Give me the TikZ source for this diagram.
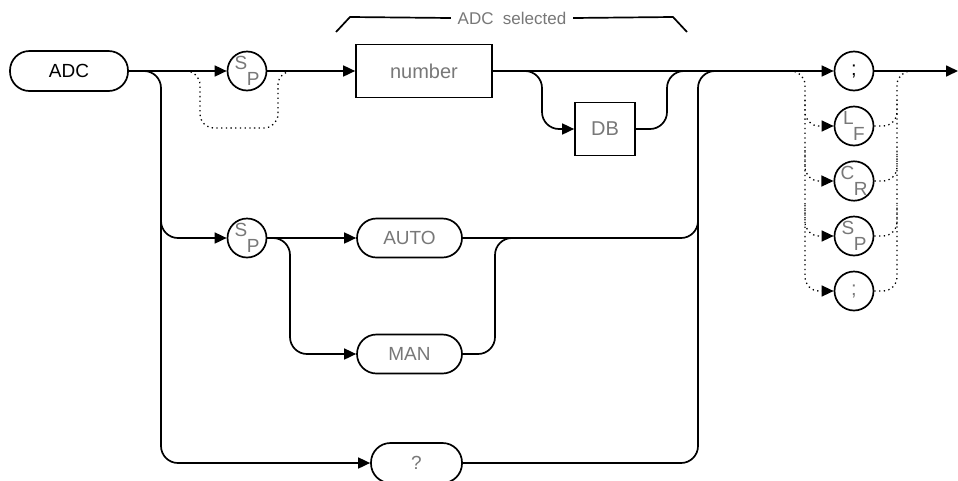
\documentclass[tikz,border=0pt]{standalone}
\usepackage{fontspec}
\setmainfont{Liberation Sans}
\usetikzlibrary{arrows.meta}
\definecolor{lbl}{RGB}{120,120,120}
\begin{document}
\begin{tikzpicture}[x=1pt,y=-1pt,
  line width=1.7pt,
  tip/.style={-{Triangle[length=12pt,width=11pt]}},
  rc/.style={rounded corners=17pt},
  dots/.style={line width=1.3pt,dash pattern=on 1.3pt off 3.4pt,rounded corners=14pt},
  term/.style={draw,rectangle,rounded corners=19.5pt,minimum height=39pt,inner sep=0pt,
     font=\fontsize{19}{19}\selectfont,text=lbl},
  boxn/.style={draw,rectangle,minimum height=53pt,inner sep=0pt,
     font=\fontsize{20}{20}\selectfont,text=lbl},
  circ/.style={draw,circle,minimum size=39pt,inner sep=0pt,
     font=\fontsize{19}{19}\selectfont,text=lbl}
]
\fill[white] (0,0) rectangle (958,480);
\useasboundingbox (0,0) rectangle (958,480);
\newcommand{\two}[2]{\raisebox{6pt}{#1}\kern-0.5pt\raisebox{-9.5pt}{#2}}

% nodes
\node[term,minimum width=118pt,text=black,minimum height=40pt] (adc) at (69,71) {ADC};
\node[circ] (sp1) at (247,71) {\two{S}{P}};
\node[boxn,minimum width=136pt] (num) at (424,71) {number};
\node[boxn,minimum width=60pt] (db) at (605,129) {DB};
\node[circ,font=\fontsize{20}{20}\selectfont,text=black] (semi) at (854,71) {;};
\node[circ] (lf) at (854,126) {\two{L}{F}};
\node[circ] (cr) at (854,181) {\two{C}{R}};
\node[circ] (spt) at (854,236) {\two{S}{P}};
\node[circ,font=\fontsize{20}{20}\selectfont] (comma) at (854,291) {;};
\node[circ] (sp2) at (247,238) {\two{S}{P}};
\node[term,minimum width=105pt] (auto) at (409.5,238) {AUTO};
\node[term,minimum width=105pt] (man) at (409.5,354) {MAN};
\node[term,minimum width=91pt,minimum height=40pt] (q) at (416.5,463) {?};
\node[font=\fontsize{17}{17}\selectfont,text=lbl,inner sep=6pt] (sel) at (512,18) {ADC\ \ selected};
\coordinate (end) at (958,71);

% bracket
\draw (336,32) -- (350,17) -- (sel.west);
\draw (sel.east) -- (673,17) -- (687,32);

% main line
\draw[tip] (adc) -- (sp1);
\draw[tip] (sp1) -- (num);
\draw[tip] (num) -- (semi);
\draw[tip] (semi) -- (end);

% SP1 bypass
\draw[dots] (186,71) -- (200,71) -- (200,128) -- (278,128) -- (278,71) -- (292,71);

% DB branch
\draw[rc,tip] (525,71) -- (542,71) -- (542,129) -- (db.west);
\draw[rc] (db.east) -- (667,129) -- (667,71) -- (684,71);

% left collector
\draw[rc,tip] (adc.east) -- (161,71) -- (161,463) -- (q.west);
\draw[rc,tip] (161,200) -- (161,238) -- (sp2.west);

% SP2 branches
\draw[tip] (sp2) -- (auto);
\draw[rc,tip] (sp2.east) -- (290,238) -- (290,354) -- (man.west);
\draw[rc] (man.east) -- (495,354) -- (495,238) -- (513,238);

% right collector
\draw[rc] (q.east) -- (698,463) -- (698,71) -- (717,71);
\draw[rc] (auto.east) -- (698,238) -- (698,200);

% terminator options
\draw[dots,tip] (790,71) -- (805,71) -- (805,291) -- (comma.west);
\draw[dots,tip] (805,100) -- (805,126) -- (lf.west);
\draw[dots,tip] (805,150) -- (805,181) -- (cr.west);
\draw[dots,tip] (805,205) -- (805,236) -- (spt.west);
\draw[dots] (comma.east) -- (897,291) -- (897,71) -- (912,71);
\draw[dots] (lf.east) -- (897,126) -- (897,100);
\draw[dots] (cr.east) -- (897,181) -- (897,150);
\draw[dots] (spt.east) -- (897,236) -- (897,205);
\end{tikzpicture}
\end{document}
